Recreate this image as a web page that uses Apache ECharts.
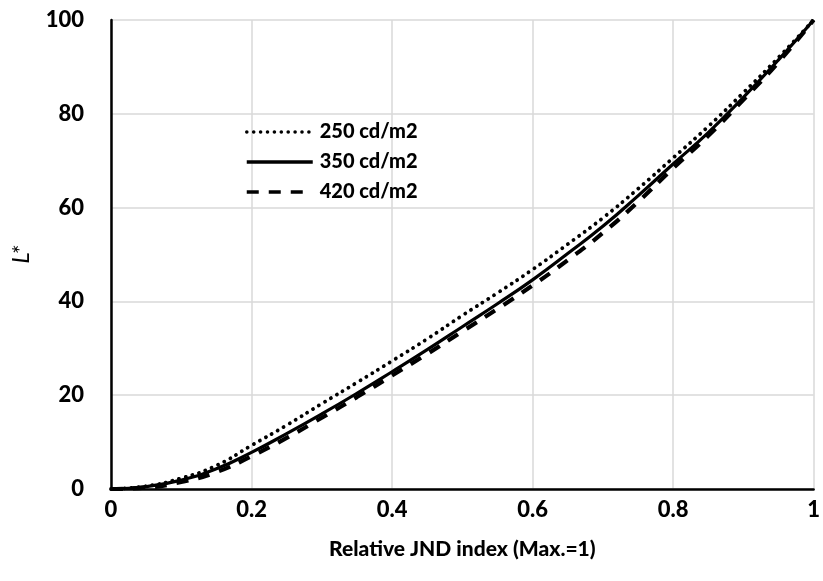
<!DOCTYPE html>
<html>
<head>
<meta charset="utf-8">
<script src="https://cdn.jsdelivr.net/npm/echarts@6/dist/echarts.min.js"></script>
<style>html,body{margin:0;padding:0;background:#fff}#c{width:823px;height:581px}</style>
</head>
<body>
<div id="c"></div>
<script>
var jndIndex = [0, 0.05, 0.1, 0.15, 0.2, 0.25, 0.3, 0.35, 0.4, 0.45, 0.5, 0.55, 0.6, 0.65, 0.7, 0.75, 0.8, 0.85, 0.9, 0.95, 1];
var l250 = [0, 0.6, 2.3, 5.0, 9.3, 13.6, 18.2, 22.7, 27.3, 32.0, 37.0, 41.8, 46.8, 52.2, 57.8, 64.0, 70.6, 77.3, 84.5, 92.0, 100];
var l350 = [0, 0.5, 1.9, 4.3, 7.8, 11.8, 16.0, 20.4, 25.0, 29.7, 34.6, 39.5, 44.6, 50.2, 56.0, 62.5, 69.3, 76.0, 83.5, 91.5, 100];
var l420 = [0, 0.3, 1.5, 3.6, 7.0, 10.9, 15.2, 19.6, 24.2, 28.8, 33.6, 38.4, 43.4, 48.8, 54.6, 61.2, 68.4, 75.3, 83.0, 91.0, 100];
var seriesNames = ['250 cd/m2', '350 cd/m2', '420 cd/m2'];
var xTicks = [0, 0.2, 0.4, 0.6, 0.8, 1];
var yTicks = [0, 20, 40, 60, 80, 100];

function pairs(ys) { return jndIndex.map(function (x, i) { return [x, ys[i]]; }); }

var FONT = 'Lato';
var W = 900;
var chart = echarts.init(document.getElementById('c'), null, { renderer: 'canvas' });
chart.setOption({
  animation: false,
  backgroundColor: '#fff',
  grid: { left: 111, right: 6, top: 20, bottom: 92, containLabel: false },
  legend: {
    orient: 'vertical',
    left: 240,
    top: 117,
    itemWidth: 66,
    itemHeight: 14,
    itemGap: 10,
    data: seriesNames,
    itemStyle: { opacity: 0 },
    lineStyle: { width: 3.5 },
    textStyle: { fontFamily: FONT, fontWeight: W, fontSize: 20, lineHeight: 20, color: '#000', padding: [0, 0, 0, 2] }
  },
  xAxis: {
    type: 'value', min: 0, max: 1, interval: 0.2,
    name: 'Relative JND index (Max.=1)', nameLocation: 'middle', nameGap: 50,
    nameTextStyle: { fontFamily: FONT, fontWeight: W, fontSize: 21, color: '#000' },
    axisLine: { show: true, lineStyle: { color: '#000', width: 2.5 } },
    axisTick: { show: false },
    axisLabel: { fontFamily: FONT, fontWeight: W, fontSize: 22, color: '#000', margin: 10,
      formatter: function (v) { return xTicks.indexOf(v) >= 0 ? String(v) : ''; } },
    splitLine: { show: true, lineStyle: { color: '#d9d9d9', width: 1.5 } }
  },
  yAxis: {
    type: 'value', min: 0, max: 100, interval: 20,
    name: 'L*', nameLocation: 'middle', nameGap: 78, nameRotate: 90,
    nameTextStyle: { fontFamily: FONT, fontStyle: 'italic', fontSize: 24, color: '#000' },
    axisLine: { show: true, lineStyle: { color: '#000', width: 2.5 } },
    axisTick: { show: false },
    axisLabel: { fontFamily: FONT, fontWeight: W, fontSize: 22, color: '#000', margin: 27,
      formatter: function (v) { return yTicks.indexOf(v) >= 0 ? String(v) : ''; } },
    splitLine: { show: true, lineStyle: { color: '#d9d9d9', width: 1.5 } }
  },
  series: [
    { name: seriesNames[0], type: 'line', data: pairs(l250), smooth: true, symbol: 'none', showSymbol: false,
      lineStyle: { color: '#000', width: 3.8, type: [0.1, 6.8], cap: 'round' }, itemStyle: { color: '#000' }, z: 3 },
    { name: seriesNames[1], type: 'line', data: pairs(l350), smooth: true, symbol: 'none', showSymbol: false,
      lineStyle: { color: '#000', width: 3.2, type: 'solid' }, itemStyle: { color: '#000' }, z: 4 },
    { name: seriesNames[2], type: 'line', data: pairs(l420), smooth: true, symbol: 'none', showSymbol: false,
      lineStyle: { color: '#000', width: 4.2, type: [12, 10] }, itemStyle: { color: '#000' }, z: 2 }
  ]
});
</script>
</body>
</html>
